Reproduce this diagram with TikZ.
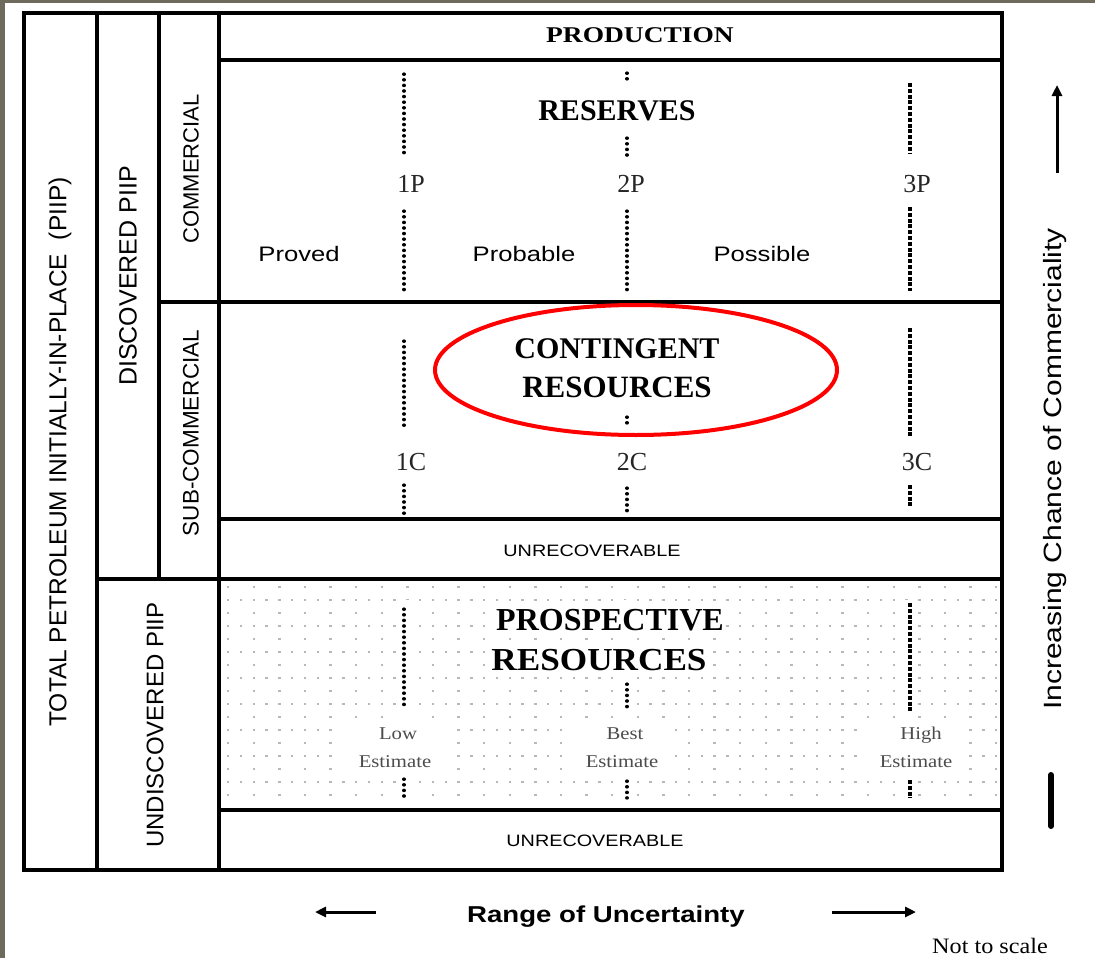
\documentclass[tikz,border=0pt]{standalone}
\usepackage{fontspec}
\setmainfont{Liberation Serif}
\setsansfont{Liberation Sans}
\usetikzlibrary{arrows.meta}
\newcommand{\fsz}[1]{\fontsize{#1}{#1}\selectfont}
\definecolor{edgegrey}{HTML}{6E6A5C}
\definecolor{patgrey}{gray}{0.72}
\begin{document}
\begin{tikzpicture}[x=1pt,y=-1pt,
  frame/.style={line width=4pt},
  dotline/.style={line width=3.2pt, line cap=round, dash pattern=on 0.4pt off 5.2pt},
  sqline/.style={line width=4.8pt, dash pattern=on 4pt off 1.8pt},
  lab/.style={anchor=base, inner sep=0pt},
  headline/.style={lab, font=\bfseries},
  ticklab/.style={lab, text=black!85},
  sidelab/.style={rotate=90, inner sep=0pt, font=\sffamily},
  arrowline/.style={line width=3pt, -{Triangle[length=11pt,width=10pt]}}
]
\useasboundingbox (0,0) rectangle (1095,958);
\fill[white] (0,0) rectangle (1095,958);
\fill[edgegrey] (0,0) rectangle (1095,3);
\fill[edgegrey] (0,0) rectangle (5,958);

% light dot pattern of the prospective band
\foreach \k in {0,2,...,16}
  \foreach \i in {0,...,30}
    \fill[patgrey] (227+25.6*\i,586+13*\k) rectangle +(2.4,2);
\foreach \k in {1,3,...,15}
  \foreach \i in {0,...,60}
    \fill[patgrey] (227+12.8*\i,586+13*\k) rectangle +(2.4,2);
% clear areas behind the estimate labels and dotted lines
\fill[white] (340,720) rectangle (455,773);
\fill[white] (570,720) rectangle (673,773);
\fill[white] (860,720) rectangle (963,773);
\foreach \x in {404,627,910}
  \fill[white] (\x-7,600) rectangle (\x+7,800);

% frame
\draw[frame] (24,13) rectangle (1002,870);
\draw[frame] (97,13) -- (97,870);
\draw[frame] (159,13) -- (159,579);
\draw[frame] (219,13) -- (219,870);
\draw[frame] (219,60) -- (1002,60);
\draw[frame] (159,302) -- (1002,302);
\draw[frame] (219,519) -- (1002,519);
\draw[frame] (97,579) -- (1002,579);
\draw[frame] (219,810) -- (1002,810);

% left column labels
\node[sidelab, font=\sffamily\fsz{24.5}] (total) at (60,452) {TOTAL PETROLEUM INITIALLY-IN-PLACE\ \ (PIIP)};
\node[sidelab, font=\sffamily\fsz{25}] (disc) at (128,276) {DISCOVERED PIIP};
\node[sidelab, font=\sffamily\fsz{24}] (undisc) at (155,725) {UNDISCOVERED PIIP};
\node[sidelab, font=\sffamily\fsz{22}] (comm) at (191,169) {COMMERCIAL};
\node[sidelab, font=\sffamily\fsz{22.5}] (subcomm) at (191,433) {SUB-COMMERCIAL};

% production and reserves
\node[headline, font=\bfseries\fsz{22.5}] (prod) at (640,43) {\scalebox{1.22}[1]{PRODUCTION}};
\node[headline, font=\bfseries\fsz{30}] (res) at (617,120) {RESERVES};
\node[ticklab, font=\fsz{26}] (p1) at (411,192) {1P};
\node[ticklab, font=\fsz{26}] (p2) at (631,192) {2P};
\node[ticklab, font=\fsz{26}] (p3) at (917,192) {3P};
\node[lab, font=\sffamily\fsz{21}] (proved) at (299,261) {\scalebox{1.22}[1]{Proved}};
\node[lab, font=\sffamily\fsz{21}] (probable) at (524,261) {\scalebox{1.22}[1]{Probable}};
\node[lab, font=\sffamily\fsz{21}] (possible) at (762,261) {\scalebox{1.22}[1]{Possible}};
\draw[dotline] (404,74) -- (404,157);
\draw[dotline] (404,211) -- (404,292);
\draw[dotline] (627,73) -- (627,84);
\draw[dotline] (627,138) -- (627,157);
\draw[dotline] (627,211) -- (627,292);
\draw[sqline] (910,83) -- (910,153);
\draw[sqline] (910,207) -- (910,291);

% contingent resources
\node[headline, font=\bfseries\fsz{30}] (cont) at (617,358) {CONTINGENT};
\node[headline, font=\bfseries\fsz{31}] (contres) at (617,397) {RESOURCES};
\draw[red, line width=4pt] (636,370) ellipse [x radius=201pt, y radius=65pt];
\node[ticklab, font=\fsz{26}] (c1) at (411,470) {1C};
\node[ticklab, font=\fsz{26}] (c2) at (632,470) {2C};
\node[ticklab, font=\fsz{26}] (c3) at (917,470) {3C};
\draw[dotline] (404,341) -- (404,430);
\draw[dotline] (404,485) -- (404,516);
\draw[dotline] (627,417) -- (627,428);
\draw[dotline] (627,488) -- (627,514);
\draw[sqline] (910,328) -- (910,436);
\draw[sqline] (910,485) -- (910,506);
\node[lab, font=\sffamily\fsz{16.5}] (unrec1) at (592,556) {\scalebox{1.2}[1]{UNRECOVERABLE}};

% prospective resources
\node[headline, font=\bfseries\fsz{32}, fill=white, inner sep=1pt] (pros) at (610,630) {PROSPECTIVE};
\node[headline, font=\bfseries\fsz{32}, fill=white, inner sep=1pt] (prosres) at (599,670) {\scalebox{1.1}[1]{RESOURCES}};
\draw[dotline] (404,609) -- (404,708);
\draw[dotline] (404,779) -- (404,798);
\draw[dotline] (627,684) -- (627,710);
\draw[dotline] (627,781) -- (627,798);
\draw[sqline] (910,603) -- (910,712);
\draw[sqline] (910,780) -- (910,798);
\node[ticklab, font=\fsz{18}, text=black!70] (low) at (398,739) {\scalebox{1.15}[1]{Low}};
\node[ticklab, font=\fsz{18}, text=black!70] (lowest) at (395,767) {\scalebox{1.15}[1]{Estimate}};
\node[ticklab, font=\fsz{18}, text=black!70] (best) at (625,739) {\scalebox{1.15}[1]{Best}};
\node[ticklab, font=\fsz{18}, text=black!70] (bestest) at (622,767) {\scalebox{1.15}[1]{Estimate}};
\node[ticklab, font=\fsz{18}, text=black!70] (high) at (921,739) {\scalebox{1.15}[1]{High}};
\node[ticklab, font=\fsz{18}, text=black!70] (highest) at (916,767) {\scalebox{1.15}[1]{Estimate}};
\node[lab, font=\sffamily\fsz{16.5}] (unrec2) at (595,846) {\scalebox{1.2}[1]{UNRECOVERABLE}};

% commerciality axis
\node[sidelab, font=\sffamily\fsz{25}] (chance) at (1055,469) {\scalebox{1.2}[1]{Increasing Chance of Commerciality}};
\coordinate (upfrom) at (1057,173);
\coordinate (upto) at (1057,85);
\draw[arrowline] (upfrom) -- (upto);
\coordinate (bartop) at (1051,775);
\coordinate (barbot) at (1051,826);
\draw[line width=6pt, line cap=round] (bartop) -- (barbot);

% uncertainty axis
\node[lab, font=\sffamily\bfseries\fsz{23}] (range) at (606,922) {\scalebox{1.2}[1]{Range of Uncertainty}};
\coordinate (lfrom) at (376,912);
\coordinate (lto) at (315,912);
\coordinate (rfrom) at (832,912);
\coordinate (rto) at (916,912);
\draw[arrowline] (lfrom) -- (lto);
\draw[arrowline] (rfrom) -- (rto);
\node[lab, font=\fsz{22}] (scale) at (990,953) {\scalebox{1.1}[1]{Not to scale}};
\end{tikzpicture}
\end{document}
